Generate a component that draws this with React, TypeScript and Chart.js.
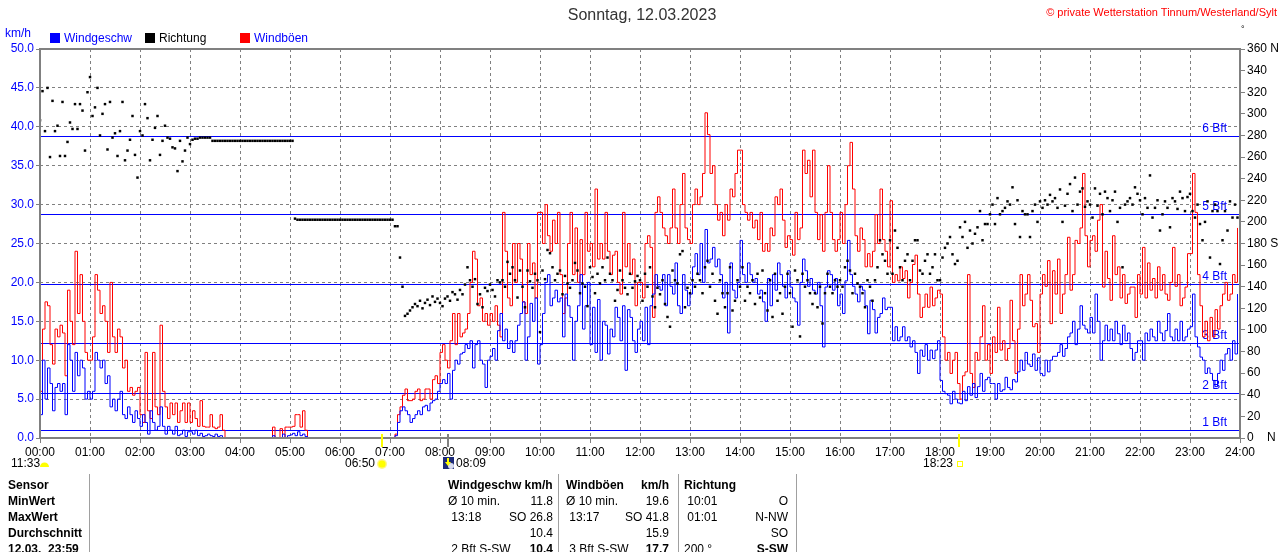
import React, { useEffect, useRef } from "react";
import { Chart, registerables } from "chart.js";

Chart.register(...registerables);

const FONT = '"Liberation Sans", Arial, sans-serif';
const MINUTES_PER_SAMPLE = 3;

const HOUR_LABELS = [
  "00:00", "01:00", "02:00", "03:00", "04:00", "05:00", "06:00", "07:00", "08:00",
  "09:00", "10:00", "11:00", "12:00", "13:00", "14:00", "15:00", "16:00", "17:00",
  "18:00", "19:00", "20:00", "21:00", "22:00", "23:00", "24:00",
];

// Windböen (gusts) km/h, one value every 3 minutes, one row per hour
const GUST_KMH = [
  6, 14, 17.5, 17, 12, 9.5, 14, 13, 14.5, 13.5, 8, 19, 15, 12, 24, 16, 21, 15, 11, 10,
  10, 13, 21, 19, 16, 17, 15, 11, 20, 13, 11, 14, 13, 9, 10, 6, 6.5, 5.5, 6, 6.5,
  3, 2, 11, 3.5, 2.5, 11, 4, 3, 14.5, 6, 4, 2.5, 4.5, 3, 4.5, 2, 3.5, 4.5, 2, 4.5,
  2, 3.5, 2.5, 1.5, 4.8, 1.5, 1.4, 1.4, 3, 1.4, 1.2, 1.4, 3, 1, 0, 0, 0, 0, 0, 0,
  0, 0, 0, 0, 0, 0, 0, 0, 0, 0, 0, 0, 0, 1.4, 0, 0, 1.2, 0, 1.4, 1.4,
  1.4, 1.5, 3, 3, 1.4, 3.5, 1, 0, 0, 0, 0, 0, 0, 0, 0, 0, 0, 0, 0, 0,
  0, 0, 0, 0, 0, 0, 0, 0, 0, 0, 0, 0, 0, 0, 0, 0, 0, 0, 0, 0,
  0, 0, 0.5, 3, 4, 5.5, 6.3, 4.8, 4.8, 5, 6, 6.3, 4.8, 5, 6.3, 6.3, 5, 7.5, 8, 7,
  11, 12, 10, 9, 12.5, 16, 12, 16, 13, 13.5, 14, 16, 20, 24, 23, 17, 18, 15, 16, 14.5,
  16, 15, 17, 14.5, 13, 29, 24, 18, 17, 25, 20, 25, 23, 17.5, 16, 25, 21, 22.5, 18, 29,
  29, 25, 30, 26, 24, 28, 25, 29, 21, 16, 18, 25, 29, 21, 27, 20, 25.5, 21, 29, 24,
  25, 22, 32, 23, 25, 23, 29, 24, 21, 23.5, 24, 20, 18.5, 29, 22, 25, 21, 23, 17, 20,
  20, 18, 25, 26, 24.5, 15.5, 29, 31, 29, 27, 26, 25, 27, 32, 27, 25, 30, 34, 27, 25.5,
  25, 30, 32, 30, 31, 34, 41.8, 39, 34, 35, 30, 28, 29, 26, 30, 28, 32, 31, 34, 37,
  37, 30, 29, 28, 29, 27, 28, 25.5, 29, 24, 25, 24, 27, 26, 31, 30, 32, 28, 24.5, 26,
  25.5, 23.5, 29, 25.5, 27, 37, 34, 35.7, 31, 37, 29, 25.5, 28.7, 24, 29, 35, 29, 25.5, 24, 25.5,
  29, 25, 30, 35, 38, 32, 26, 24, 27, 25.5, 22, 23.7, 22, 24, 28.7, 25, 32, 25.5, 24, 22,
  30.5, 20, 21, 20.2, 22, 20.5, 21.5, 18, 20, 22.3, 23.5, 18.5, 15.5, 16.8, 18.5, 16.8, 19.4, 17, 18, 19,
  18.5, 13, 10, 11, 8.3, 10, 11, 7, 5, 8, 8.5, 21, 8.3, 6.5, 11, 10, 13, 17, 10, 12,
  8.3, 13, 11, 16.8, 11.3, 12.5, 10, 11.5, 17.7, 12.5, 8.3, 14, 21, 17, 18.5, 21, 17.7, 14.3, 14.7, 11,
  18.5, 21, 19.5, 22.8, 14.7, 21.5, 18.5, 23, 16, 18.5, 21, 25.8, 19, 21, 25.4, 25, 27, 34, 26, 22,
  25.4, 26, 24, 28, 30, 19.4, 24, 20.5, 17.7, 26, 21, 22, 18, 21, 17.3, 18.5, 19.4, 19.4, 15.5, 21,
  18.5, 24.5, 18, 22.5, 19, 20.5, 18, 22, 19, 21, 18.5, 17.7, 20, 24.5, 19.5, 21, 17, 18, 19.4, 23.7,
  23.7, 34, 29, 21, 17, 13, 15, 12.5, 15.5, 13, 16.5, 14, 17, 18.5, 20, 17.7, 18.5, 21, 20, 27,
];

// Windgeschwindigkeit km/h
const SPEED_KMH = [
  3, 10, 5, 9, 7, 3.5, 6.5, 7, 6, 7, 3, 12, 10, 6, 11, 8, 10, 9, 5, 6,
  5, 6, 11, 10, 9, 10, 7, 8, 4, 5, 3.5, 5, 6, 3, 2.5, 4, 3, 2, 3.5, 2.5,
  1.5, 3, 2, 0.5, 3.5, 2, 1, 1.5, 4, 1.5, 0.5, 1.5, 1, 0.5, 1.5, 0.3, 0.5, 1, 0.2, 0.8,
  0.8, 0.5, 1, 0.3, 0.6, 0.2, 0.3, 0.5, 0.3, 0.2, 0.5, 0.2, 0.3, 0, 0, 0, 0, 0, 0, 0,
  0, 0, 0, 0, 0, 0, 0, 0, 0, 0, 0, 0, 0, 0.3, 0, 0, 0, 0.5, 0, 0.3,
  0.4, 0.6, 0.3, 0.8, 0.3, 0.5, 0.2, 0, 0, 0, 0, 0, 0, 0, 0, 0, 0, 0, 0, 0,
  0, 0, 0, 0, 0, 0, 0, 0, 0, 0, 0, 0, 0, 0, 0, 0, 0, 0, 0, 0,
  0, 0, 0.3, 2, 3.5, 4, 3.5, 3, 2, 2.5, 3, 3.5, 3, 4, 4.2, 3.5, 4.5, 4.8, 5, 6,
  7, 7.5, 7, 8.3, 5, 8.7, 10, 9.5, 10.8, 11, 12, 11.5, 12.5, 9, 12, 12.5, 10, 9.5, 6.5, 10,
  10.5, 11.5, 10, 13.8, 16, 12.5, 14, 11.5, 12.5, 11, 12.5, 14.5, 16, 17.5, 10, 13, 17.3, 15, 18, 9.5,
  12, 16, 20, 21, 17, 18, 19, 17.5, 18, 13, 18.5, 17, 15.5, 10, 15, 17, 21, 14, 17, 20,
  12, 16.8, 11, 17.8, 10, 15, 14.5, 10.8, 14, 13, 16.8, 15.5, 12.5, 17, 8.7, 16.5, 15.5, 12.5, 11, 14,
  15, 12.5, 16.8, 12, 17, 18.5, 21, 19.5, 19, 21, 17, 21, 19.5, 18.5, 22.5, 17, 16, 21, 19, 17,
  18.5, 22, 23.7, 21, 25, 20, 26.8, 22.5, 23, 24.5, 22, 23, 21, 18, 20, 13.5, 22.5, 19, 18, 20,
  25.4, 21, 20, 22.5, 21, 20, 20.5, 18.5, 19, 17.5, 15, 20.5, 17, 21, 19, 22.5, 21, 19.5, 18, 21.5,
  19.4, 18, 17.5, 14.5, 20, 23, 21.5, 19.5, 20.5, 19, 18.5, 20, 17, 11.7, 19.4, 21.5, 21, 19, 20.5, 17,
  18.5, 16, 20.2, 25.4, 21, 19.5, 18.5, 17.5, 19.5, 19, 17, 13.4, 17.7, 16.5, 13.5, 15.5, 16, 18, 16.5, 16.8,
  16.8, 12.5, 14.3, 12.5, 13, 14.3, 12.5, 13, 11.7, 12.5, 11, 8.3, 11.3, 10.5, 12, 10, 11.3, 10.2, 11.3, 12.5,
  7.4, 6, 5.7, 5.5, 4.4, 6, 5, 4.5, 4.4, 6, 4.8, 6.6, 5.5, 7, 5.2, 6.6, 8.3, 6, 7.5, 7.8,
  7, 7, 5, 7, 6, 6.2, 7.8, 6.5, 6.2, 7.5, 7.2, 8.5, 10, 8.7, 11, 9.5, 9.2, 10.8, 8.7, 10.3,
  8.3, 8, 10, 8.5, 10, 10.5, 10.5, 11, 12, 10.5, 11.5, 13, 13.5, 15, 12, 14, 17, 14.5, 14, 13.5,
  15.5, 13.5, 18.5, 15, 10, 12.5, 14.5, 12.5, 14, 12.5, 15, 13.4, 12, 14.5, 12.5, 13.5, 11.5, 10, 11, 12.5,
  12.5, 10, 13.5, 12.5, 14, 13, 12.5, 15, 13.5, 12.5, 13.8, 16, 13, 12.5, 14, 12.5, 15, 12.5, 13, 14,
  14.3, 18.5, 13, 11.7, 10.4, 10, 8.3, 9, 8.3, 7.4, 6.6, 8.3, 10, 8.7, 10.8, 11.5, 10, 12.5, 10.8, 18.5,
];

// Richtung (direction) degrees
const DIRECTION_DEG = [
  294, 321, 284, 324, 260, 312, 284, 289, 261, 311, 261, 274, 292, 286, 309, 286, 309, 303, 266, 320,
  334, 298, 306, 324, 280, 300, 309, 267, 311, 278, 282, 261, 284, 311, 257, 266, 276, 298, 262, 241,
  284, 280, 309, 296, 257, 276, 287, 298, 262, 275, 289, 278, 277, 269, 268, 247, 275, 256, 266, 278,
  272, 276, 277, 277, 278, 278, 278, 278, 278, 275, 275, 275, 275, 275, 275, 275, 275, 275, 275, 275,
  275, 275, 275, 275, 275, 275, 275, 275, 275, 275, 275, 275, 275, 275, 275, 275, 275, 275, 275, 275,
  275, 275, 203, 202, 202, 202, 202, 202, 202, 202, 202, 202, 202, 202, 202, 202, 202, 202, 202, 202,
  202, 202, 202, 202, 202, 202, 202, 202, 202, 202, 202, 202, 202, 202, 202, 202, 202, 202, 202, 202,
  202, 202, 196, 196, 167, 140, 113, 115, 118, 121, 124, 122, 127, 120, 125, 128, 123, 131, 126, 129,
  125, 122, 129, 131, 127, 135, 133, 128, 137, 133, 142, 158, 146, 140, 147, 124, 133, 121, 139, 136,
  142, 137, 131, 146, 144, 146, 140, 163, 152, 158, 146, 130, 155, 140, 121, 155, 145, 139, 152, 146,
  98, 155, 147, 174, 171, 158, 146, 152, 155, 133, 150, 143, 139, 146, 162, 155, 134, 143, 140, 122,
  158, 149, 134, 152, 143, 158, 146, 167, 152, 146, 127, 137, 155, 146, 139, 133, 152, 139, 145, 150,
  146, 127, 152, 140, 158, 131, 121, 139, 133, 146, 124, 112, 103, 155, 146, 143, 170, 173, 121, 139,
  134, 146, 140, 152, 146, 134, 158, 164, 140, 152, 127, 115, 146, 134, 121, 134, 158, 118, 127, 146,
  140, 158, 127, 140, 134, 146, 124, 152, 130, 155, 134, 118, 146, 112, 152, 127, 134, 115, 140, 152,
  134, 103, 155, 146, 94, 152, 140, 146, 134, 124, 134, 121, 140, 106, 134, 152, 140, 134, 146, 140,
  146, 140, 158, 164, 155, 134, 152, 143, 140, 134, 121, 146, 140, 127, 146, 158, 183, 170, 164, 152,
  183, 152, 192, 176, 158, 146, 164, 170, 146, 164, 183, 183, 155, 152, 164, 170, 152, 158, 170, 146,
  146, 167, 176, 180, 186, 170, 161, 164, 195, 186, 200, 176, 192, 180, 189, 195, 210, 183, 198, 198,
  207, 216, 198, 222, 207, 210, 213, 219, 216, 232, 198, 220, 186, 210, 207, 207, 186, 210, 216, 200,
  219, 213, 220, 216, 225, 219, 222, 213, 230, 200, 215, 226, 235, 210, 241, 216, 228, 231, 214, 219,
  216, 204, 231, 215, 226, 207, 228, 222, 210, 220, 228, 200, 213, 158, 216, 219, 222, 216, 232, 226,
  220, 207, 222, 213, 243, 204, 213, 220, 192, 207, 219, 213, 195, 222, 219, 212, 228, 222, 210, 223,
  226, 210, 204, 216, 198, 183, 200, 219, 167, 210, 216, 210, 161, 183, 210, 192, 219, 204, 216, 204,
];

const BFT_LEVELS_KMH = [1.08, 5.76, 12.24, 19.8, 28.8, 38.88];
const BFT_LABELS = ["1 Bft", "2 Bft", "3 Bft", "4 Bft", "5 Bft", "6 Bft"];

const DIRECTION_TICK_NAMES: Record<number, string> = { 0: "0    N", 180: "180 S", 360: "360 N" };

const ASTRO_EVENTS = [
  { label: "06:50", minute: 410, kind: "sunrise" },
  { label: "08:09", minute: 489, kind: "moonrise" },
  { label: "18:23", minute: 1103, kind: "sunset" },
];

const TABLE_ROW_LABELS = ["Sensor", "MinWert", "MaxWert", "Durchschnitt", "12.03.\u00a0\u00a023:59"];
const WIND_COLUMN = [
  ["Windgeschw km/h", ""],
  ["Ø 10 min.", "11.8"],
  [" 13:18", "SO 26.8"],
  ["", "10.4"],
  [" 2 Bft S-SW", "10.4"],
];
const GUST_COLUMN = [
  ["Windböen", "km/h"],
  ["Ø 10 min.", "19.6"],
  [" 13:17", "SO 41.8"],
  ["", "15.9"],
  [" 3 Bft S-SW", "17.7"],
];
const DIR_COLUMN = [
  ["Richtung", ""],
  [" 10:01", "O"],
  [" 01:01", "N-NW"],
  ["", "SO"],
  ["200 °", "S-SW"],
];

const bftPlugin = {
  id: "bftLines",
  beforeDatasetsDraw(chart: any) {
    const { ctx, chartArea: a, scales } = chart;
    const y = scales.y;
    ctx.save();
    ctx.strokeStyle = "#0000ff";
    ctx.fillStyle = "#0000ff";
    ctx.lineWidth = 1;
    ctx.font = `12px ${FONT}`;
    ctx.textAlign = "right";
    ctx.textBaseline = "middle";
    BFT_LEVELS_KMH.forEach((v, i) => {
      const py = Math.round(y.getPixelForValue(v)) + 0.5;
      ctx.beginPath();
      ctx.moveTo(a.left, py);
      ctx.lineTo(a.right, py);
      ctx.stroke();
      ctx.fillText(BFT_LABELS[i], a.right - 13, py - 8);
    });
    ctx.restore();
  },
};

const framePlugin = {
  id: "frame",
  afterDatasetsDraw(chart: any) {
    const { ctx, chartArea: a } = chart;
    ctx.save();
    ctx.strokeStyle = "#808080";
    ctx.lineWidth = 2;
    ctx.strokeRect(a.left, a.top, a.right - a.left, a.bottom - a.top);
    ctx.restore();
  },
};

const astroPlugin = {
  id: "astro",
  afterDraw(chart: any) {
    const { ctx, chartArea: a, scales } = chart;
    const x = scales.x;
    const ty = 464;
    ctx.save();
    ctx.font = `12px ${FONT}`;
    ctx.textBaseline = "middle";
    ASTRO_EVENTS.forEach((ev) => {
      const px = Math.round(x.getPixelForValue(ev.minute));
      ctx.strokeStyle = ev.kind === "moonrise" ? "#808080" : "#ffff00";
      ctx.lineWidth = 2;
      ctx.beginPath();
      ctx.moveTo(px, a.bottom - 4);
      ctx.lineTo(px, a.bottom + 9);
      ctx.stroke();
      ctx.fillStyle = "#000";
      if (ev.kind === "sunrise") {
        ctx.textAlign = "right";
        ctx.fillText(ev.label, px - 7, ty);
        ctx.fillStyle = "#fff48a";
        ctx.beginPath();
        ctx.arc(px, ty, 5, 0, Math.PI * 2);
        ctx.fill();
        ctx.fillStyle = "#ffff00";
        ctx.beginPath();
        ctx.arc(px, ty, 3.6, 0, Math.PI * 2);
        ctx.fill();
      } else if (ev.kind === "moonrise") {
        ctx.fillStyle = "#1c2a7a";
        ctx.fillRect(px - 5, ty - 7, 11, 12);
        ctx.fillStyle = "#d8dcf0";
        ctx.beginPath();
        ctx.arc(px + 3, ty + 2, 3, 0, Math.PI * 2);
        ctx.fill();
        ctx.fillStyle = "#ffff00";
        ctx.fillRect(px - 1, ty - 6, 2, 4);
        ctx.beginPath();
        ctx.moveTo(px - 3, ty - 2);
        ctx.lineTo(px + 3, ty - 2);
        ctx.lineTo(px, ty + 2);
        ctx.closePath();
        ctx.fill();
        ctx.fillStyle = "#000";
        ctx.textAlign = "left";
        ctx.fillText(ev.label, px + 8, ty);
      } else {
        ctx.textAlign = "right";
        ctx.fillText(ev.label, px - 6, ty);
        ctx.strokeStyle = "#ffff00";
        ctx.lineWidth = 1;
        ctx.strokeRect(px - 1.5, ty - 2.5, 5, 5);
      }
    });
    ctx.fillStyle = "#000";
    ctx.textAlign = "left";
    ctx.fillText("11:33", 11, ty);
    ctx.fillStyle = "#ffff00";
    ctx.beginPath();
    ctx.arc(44.5, ty + 3, 4.5, Math.PI, 0);
    ctx.fill();
    ctx.restore();
  },
};

function Txt(props: {
  x: number; y: number; text: string; align?: "left" | "right" | "center";
  color?: string; bold?: boolean; size?: number;
}) {
  const { x, y, text, align = "left", color = "#000", bold = false, size = 12 } = props;
  const style: React.CSSProperties = {
    position: "absolute",
    top: y - 8,
    height: 16,
    lineHeight: "16px",
    fontSize: size,
    fontWeight: bold ? 700 : 400,
    color,
    whiteSpace: "pre",
    fontFamily: FONT,
  };
  if (align === "left") style.left = x;
  else if (align === "right") style.right = 1280 - x;
  else {
    style.left = x - 300;
    style.width = 600;
    style.textAlign = "center";
  }
  return <div style={style}>{text}</div>;
}

export default function App() {
  const canvasRef = useRef<HTMLCanvasElement | null>(null);

  useEffect(() => {
    if (!canvasRef.current) return;
    const toPoints = (arr: number[]) =>
      arr.map((v, i) => ({ x: i * MINUTES_PER_SAMPLE, y: v }));

    const chart = new Chart(canvasRef.current, {
      type: "line",
      data: {
        datasets: [
          {
            label: "Richtung",
            data: toPoints(DIRECTION_DEG),
            yAxisID: "y1",
            showLine: false,
            pointStyle: "rect",
            pointRadius: 1.75,
            pointBackgroundColor: "#000",
            pointBorderWidth: 0,
            borderColor: "#000",
          },
          {
            label: "Windgeschw",
            data: toPoints(SPEED_KMH),
            yAxisID: "y",
            borderColor: "#0000ff",
            borderWidth: 1,
            pointRadius: 0,
            stepped: true,
            fill: false,
          },
          {
            label: "Windböen",
            data: toPoints(GUST_KMH),
            yAxisID: "y",
            borderColor: "#ff0000",
            borderWidth: 1,
            pointRadius: 0,
            stepped: true,
            fill: false,
          },
        ],
      },
      options: {
        responsive: false,
        animation: false,
        devicePixelRatio: 1,
        events: [],
        layout: { padding: { top: 49, left: 0, right: 0, bottom: 0 } },
        plugins: {
          legend: { display: false },
          title: { display: false },
          tooltip: { enabled: false },
        },
        scales: {
          x: {
            type: "linear",
            position: "bottom",
            min: 0,
            max: 1440,
            afterFit: (s: any) => { s.height = 114; },
            grid: {
              color: "#808080",
              lineWidth: 1,
              drawTicks: true,
              tickLength: 5,
              tickColor: "#808080",
              tickBorderDash: [],
            },
            border: { display: false, dash: [3, 3] },
            ticks: {
              stepSize: 60,
              autoSkip: false,
              maxRotation: 0,
              minRotation: 0,
              padding: 2,
              color: "#000",
              font: { size: 12, family: FONT },
              callback: (v: any) => HOUR_LABELS[Math.round(Number(v) / 60)] ?? "",
            },
          },
          y: {
            position: "left",
            min: 0,
            max: 50,
            afterFit: (s: any) => { s.width = 40; },
            grid: {
              color: "#808080",
              lineWidth: 1,
              drawTicks: true,
              tickLength: 4,
              tickColor: "#808080",
              tickBorderDash: [],
            },
            border: { display: false, dash: [3, 3] },
            ticks: {
              stepSize: 5,
              padding: 2,
              color: "#0000ff",
              font: { size: 12, family: FONT },
              callback: (v: any) => Number(v).toFixed(1),
            },
          },
          y1: {
            position: "right",
            min: 0,
            max: 360,
            afterFit: (s: any) => { s.width = 40; },
            grid: {
              drawOnChartArea: false,
              drawTicks: true,
              tickLength: 5,
              tickColor: "#808080",
              color: "#808080",
            },
            border: { display: false },
            ticks: {
              stepSize: 20,
              padding: 2,
              color: "#000",
              font: { size: 12, family: FONT },
              callback: (v: any) => DIRECTION_TICK_NAMES[Number(v)] ?? String(v),
            },
          },
        },
      } as any,
      plugins: [bftPlugin, framePlugin, astroPlugin],
    });
    return () => chart.destroy();
  }, []);

  const rowY = [485, 501, 517, 533, 549];

  return (
    <div
      style={{
        position: "absolute",
        left: 0,
        top: 0,
        width: 1280,
        height: 552,
        background: "#fff",
        overflow: "hidden",
        fontFamily: FONT,
      }}
    >
      <canvas
        ref={canvasRef}
        width={1280}
        height={552}
        style={{ position: "absolute", left: 0, top: 0, width: 1280, height: 552 }}
      />
      <Txt x={642} y={15} text="Sonntag, 12.03.2023" align="center" size={16} color="#333" />
      <Txt x={1277} y={12} text="© private Wetterstation Tinnum/Westerland/Sylt" align="right" size={11} color="#ff0000" />
      <Txt x={1241} y={29} text="°" size={9} />
      <Txt x={5} y={33} text="km/h" color="#0000ff" />
      <div style={{ position: "absolute", left: 50, top: 33, width: 10, height: 10, background: "#0000ff" }} />
      <Txt x={64} y={38} text="Windgeschw" color="#0000ff" />
      <div style={{ position: "absolute", left: 145, top: 33, width: 10, height: 10, background: "#000" }} />
      <Txt x={159} y={38} text="Richtung" color="#000" />
      <div style={{ position: "absolute", left: 240, top: 33, width: 10, height: 10, background: "#ff0000" }} />
      <Txt x={254} y={38} text="Windböen" color="#0000ff" />

      {[89, 558, 678, 796].map((lx) => (
        <div key={lx} style={{ position: "absolute", left: lx, top: 474, width: 1, height: 80, background: "#a0a0a0" }} />
      ))}
      {TABLE_ROW_LABELS.map((t, i) => (
        <Txt key={"l" + i} x={8} y={rowY[i]} text={t} bold />
      ))}
      {WIND_COLUMN.map((r, i) => (
        <React.Fragment key={"w" + i}>
          <Txt x={448} y={rowY[i]} text={r[0]} bold={i === 0} />
          <Txt x={553} y={rowY[i]} text={r[1]} align="right" bold={i === 4} />
        </React.Fragment>
      ))}
      {GUST_COLUMN.map((r, i) => (
        <React.Fragment key={"g" + i}>
          <Txt x={566} y={rowY[i]} text={r[0]} bold={i === 0} />
          <Txt x={669} y={rowY[i]} text={r[1]} align="right" bold={i === 0 || i === 4} />
        </React.Fragment>
      ))}
      {DIR_COLUMN.map((r, i) => (
        <React.Fragment key={"d" + i}>
          <Txt x={684} y={rowY[i]} text={r[0]} bold={i === 0} />
          <Txt x={788} y={rowY[i]} text={r[1]} align="right" bold={i === 4} />
        </React.Fragment>
      ))}
    </div>
  );
}
